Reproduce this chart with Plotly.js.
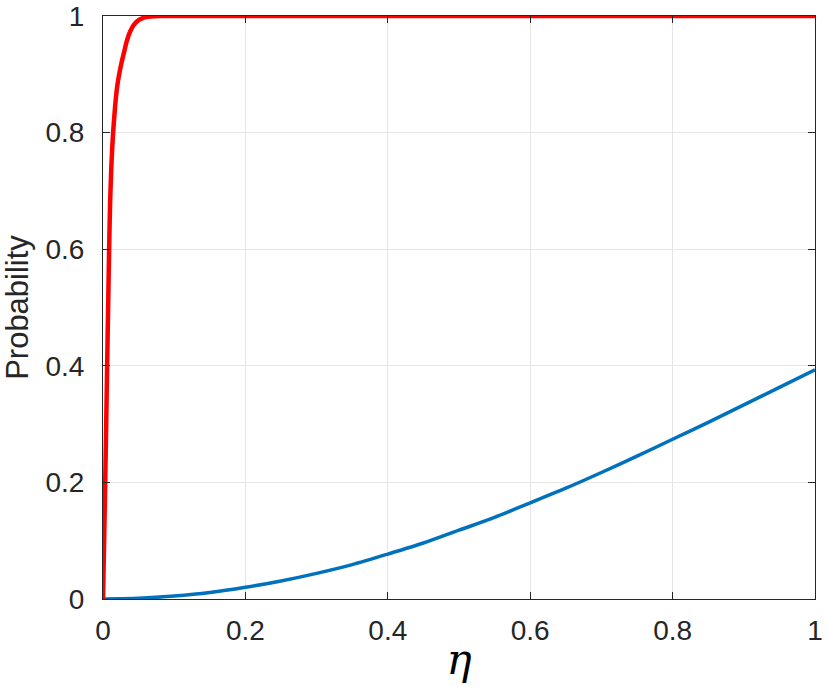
<!DOCTYPE html>
<html>
<head>
<meta charset="utf-8">
<script src="https://cdn.plot.ly/plotly-3.0.1.min.js"></script>
<style>html,body{margin:0;padding:0;background:#fff;}</style>
</head>
<body>
<div id="chart" style="width:830px;height:687px;"></div>
<script>
// Red curve (steep rise)
const etaRed = [0, 0.0016, 0.0031, 0.0045, 0.0058, 0.0072, 0.0086, 0.01, 0.0115, 0.013, 0.0145, 0.017, 0.02, 0.0235, 0.027, 0.03, 0.033, 0.038, 0.044, 0.05, 0.055, 0.061, 0.067, 0.08, 0.1, 0.2, 0.3, 0.4, 0.5, 0.6, 0.7, 0.8, 0.9, 1];
const probRed = [0, 0.1, 0.2, 0.3, 0.4, 0.5, 0.6, 0.68, 0.735, 0.775, 0.805, 0.845, 0.88, 0.905, 0.925, 0.94, 0.955, 0.973, 0.986, 0.993, 0.996, 0.998, 0.999, 1, 1, 1, 1, 1, 1, 1, 1, 1, 1, 1];
// Blue curve
const etaBlue = [0, 0.05, 0.1, 0.15, 0.2, 0.25, 0.3, 0.35, 0.4, 0.45, 0.5, 0.55, 0.6, 0.65, 0.7, 0.75, 0.8, 0.85, 0.9, 0.95, 1];
const probBlue = [0, 0.0012, 0.005, 0.011, 0.02, 0.031, 0.044, 0.059, 0.077, 0.096, 0.118, 0.14, 0.165, 0.19, 0.217, 0.245, 0.274, 0.303, 0.333, 0.363, 0.393];
const xTicks = [0, 0.2, 0.4, 0.6, 0.8, 1];
const xTickText = ['0', '0.2', '0.4', '0.6', '0.8', '1'];
const yTicks = [0, 0.2, 0.4, 0.6, 0.8, 1];
const yTickText = ['0', '0.2', '0.4', '0.6', '0.8', '1'];

const axisCommon = {
  showline: true, linecolor: '#262626', linewidth: 1, mirror: 'ticks',
  ticks: 'inside', ticklen: 7, tickcolor: '#262626', tickwidth: 1,
  showgrid: true, gridcolor: '#e6e6e6', gridwidth: 1, zeroline: false,
  tickfont: {family: 'Liberation Sans, Arial, sans-serif', size: 28, color: '#262626'},
  tickmode: 'array'
};

const data = [
  {x: etaBlue, y: probBlue, type: 'scatter', mode: 'lines', line: {color: '#0072BD', width: 3.5, shape: 'spline', smoothing: 0.8}, hoverinfo: 'skip'},
  {x: etaRed, y: probRed, type: 'scatter', mode: 'lines', line: {color: '#FF0000', width: 4.5, shape: 'spline', smoothing: 0.6}, hoverinfo: 'skip', cliponaxis: false}
];

const layout = {
  width: 830, height: 687,
  margin: {l: 103, r: 15, t: 16, b: 88},
  paper_bgcolor: '#fff', plot_bgcolor: '#fff',
  showlegend: false,
  xaxis: Object.assign({}, axisCommon, {
    range: [0, 1], tickvals: xTicks, ticktext: xTickText, ticklabelstandoff: 6,
    title: {text: '<i>η</i>', font: {family: 'DejaVu Serif, serif', size: 42, color: '#000'}, standoff: 0}
  }),
  yaxis: Object.assign({}, axisCommon, {
    range: [0, 1], tickvals: yTicks, ticktext: yTickText, ticklabelstandoff: 12,
    title: {text: 'Probability', font: {family: 'Liberation Sans, Arial, sans-serif', size: 31, color: '#262626'}, standoff: 10}
  })
};

Plotly.newPlot('chart', data, layout, {displayModeBar: false, staticPlot: true});
</script>
</body>
</html>
